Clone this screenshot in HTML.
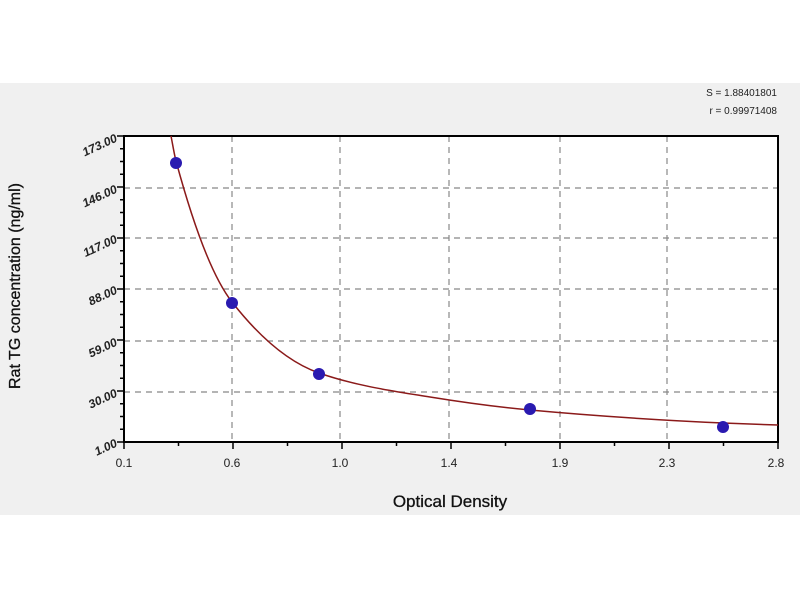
<!DOCTYPE html>
<html><head><meta charset="utf-8"><style>
body{margin:0;width:800px;height:600px;background:#fff;overflow:hidden;font-family:"Liberation Sans",sans-serif}
</style></head><body>
<svg width="800" height="600" xmlns="http://www.w3.org/2000/svg">
<rect x="0" y="83" width="800" height="432" fill="#f0f0f0"/>
<rect x="124" y="136" width="654" height="306" fill="#fff"/>
<g stroke="#888" stroke-width="1.2" stroke-dasharray="6,5">
<line x1="232" y1="136" x2="232" y2="442"/><line x1="340" y1="136" x2="340" y2="442"/>
<line x1="449" y1="136" x2="449" y2="442"/><line x1="560" y1="136" x2="560" y2="442"/>
<line x1="667" y1="136" x2="667" y2="442"/>
<line x1="124" y1="188" x2="778" y2="188"/><line x1="124" y1="238" x2="778" y2="238"/>
<line x1="124" y1="289" x2="778" y2="289"/><line x1="124" y1="341" x2="778" y2="341"/>
<line x1="124" y1="392" x2="778" y2="392"/>
</g>
<rect x="124" y="136" width="654" height="306" fill="none" stroke="#000" stroke-width="2"/>
<g stroke="#000" stroke-width="1.5" id="ticks"></g>
<path id="curve" fill="none" stroke="#8b1a1a" stroke-width="1.5"/>
<g fill="#2a1ab0">
<circle cx="176" cy="163" r="6"/><circle cx="232" cy="303" r="6"/><circle cx="319" cy="374" r="6"/>
<circle cx="530" cy="409" r="6"/><circle cx="723" cy="427" r="6"/>
</g>
<g font-size="12" fill="#222" font-style="italic" font-weight="bold" text-anchor="end">
<text transform="translate(118,141) rotate(-25)">173.00</text>
<text transform="translate(118,192) rotate(-25)">146.00</text>
<text transform="translate(118,242) rotate(-25)">117.00</text>
<text transform="translate(118,293) rotate(-25)">88.00</text>
<text transform="translate(118,345) rotate(-25)">59.00</text>
<text transform="translate(118,396) rotate(-25)">30.00</text>
<text transform="translate(118,446) rotate(-25)">1.00</text>
</g>
<g font-size="12" fill="#222" text-anchor="middle">
<text x="124" y="467">0.1</text><text x="232" y="467">0.6</text><text x="340" y="467">1.0</text>
<text x="449" y="467">1.4</text><text x="560" y="467">1.9</text><text x="667" y="467">2.3</text><text x="776" y="467">2.8</text>
</g>
<text x="450" y="507" font-size="17" text-anchor="middle" fill="#111" stroke="#111" stroke-width="0.3">Optical Density</text>
<text transform="translate(20,286) rotate(-90)" font-size="16" text-anchor="middle" fill="#111" stroke="#111" stroke-width="0.3">Rat TG concentration (ng/ml)</text>
<g font-size="10" fill="#222" text-anchor="end">
<text x="777" y="96">S = 1.88401801</text><text x="777" y="114">r = 0.99971408</text>
</g>
</svg>
<script>
var X=[171,176,232,319,430,530,723,778],Y=[136,161,302,373,397,410,423,425];
var n=X.length,h=[],dl=[],m=[];
for(var i=0;i<n-1;i++){h[i]=X[i+1]-X[i];dl[i]=(Y[i+1]-Y[i])/h[i];}
m[0]=dl[0];m[n-1]=dl[n-2];
for(var i=1;i<n-1;i++){if(dl[i-1]*dl[i]<=0)m[i]=0;else{var w1=2*h[i]+h[i-1],w2=h[i]+2*h[i-1];m[i]=(w1+w2)/(w1/dl[i-1]+w2/dl[i]);}}
var d="M"+X[0]+","+Y[0];
for(var i=0;i<n-1;i++){d+=" C"+(X[i]+h[i]/3)+","+(Y[i]+m[i]*h[i]/3)+" "+(X[i+1]-h[i]/3)+","+(Y[i+1]-m[i+1]*h[i]/3)+" "+X[i+1]+","+Y[i+1];}
document.getElementById("curve").setAttribute("d",d);
var t=document.getElementById("ticks"),s="";
for(var k=0;k<=12;k++){var x=124+k*654/12;s+='<line x1="'+x+'" y1="442" x2="'+x+'" y2="'+(k%2?446:449)+'"/>';}
for(var k=0;k<=24;k++){var y=136+k*306/24;s+='<line x1="'+(k%4?120:117)+'" y1="'+y+'" x2="124" y2="'+y+'"/>';}
t.innerHTML=s;
</script>
</body></html>
